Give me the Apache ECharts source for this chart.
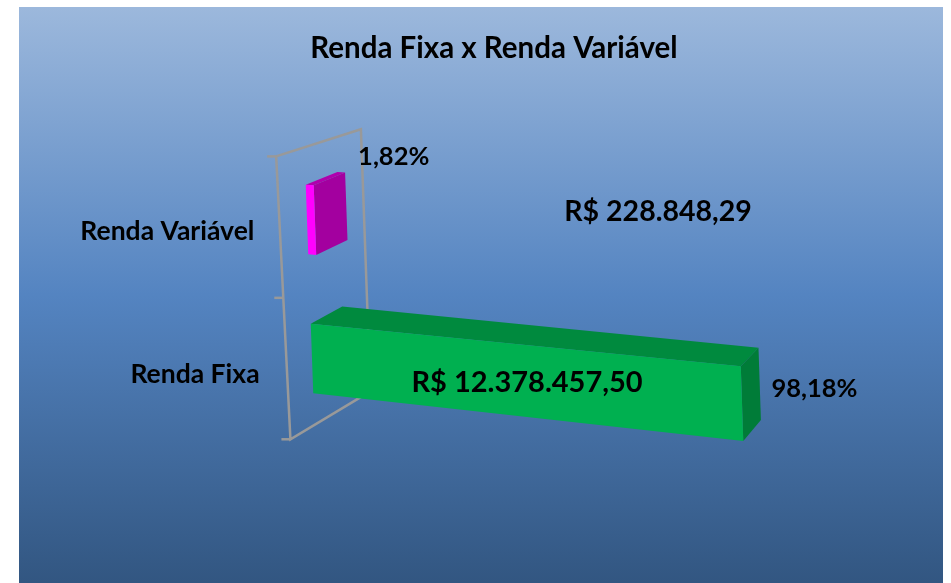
<!DOCTYPE html>
<html>
<head>
<meta charset="utf-8">
<title>Renda Fixa x Renda Variável</title>
<script src="https://cdn.jsdelivr.net/npm/echarts@6/dist/echarts.min.js"></script>
<style>
  html, body { margin: 0; background: #fff; }
  #chart { width: 951px; height: 583px; }
</style>
</head>
<body>
<div id="chart"></div>
<script>
// dados
const categorias = ['Renda Variável', 'Renda Fixa']
const percentuais = [1.82, 98.18]
const valores = [228848.29, 12378457.50]

// cores das barras (frente, topo, lado)
const cores = [
  { frente: '#ff00ff', topo: '#b000ad', lado: '#a3009f' },
  { frente: '#00b050', topo: '#008a3e', lado: '#007c38' }
]
const fonte = 'Lato'

// perspectiva "3D" feita à mão
const KX = 0.036
const KY = 0.105
const G = 0.00017
const PROF_BARRA = 0.032
const PAREDE_FRENTE = -0.032
const PAREDE_FUNDO = 0.057

function fmtPct (v) {
  return v.toFixed(2).replace('.', ',') + '%'
}
function fmtReal (v) {
  const [i, d] = v.toFixed(2).split('.')
  return 'R$ ' + i.replace(/\B(?=(\d{3})+(?!\d))/g, '.') + ',' + d
}

function projetor (cs) {
  const px = cs.x
  const py = cs.y + cs.height * 0.75
  const vp = [px + 982, py - 572]
  const F = (x, y) => {
    const dx = x - px
    return [x + KX * (y - py), y + KY * dx + G * dx * (y - py)]
  }
  const D = (p, t, ty) => {
    if (ty === undefined) ty = t
    return [p[0] + (vp[0] - p[0]) * t, p[1] + (vp[1] - p[1]) * ty]
  }
  // aresta da frente da parede: um pouco mais inclinada e achatada
  const W = (x, y) => {
    const p = D(F(x, y), PAREDE_FRENTE * 0.8, PAREDE_FRENTE * 0.55)
    return [p[0] + 0.0144 * (y - py), p[1]]
  }
  return { F, D, W }
}

function texto (txt, x, y, size, align) {
  return {
    type: 'text',
    z2: 10,
    style: {
      text: txt, x: x, y: y, fill: '#000',
      fontFamily: fonte, fontWeight: 'bold', fontSize: size,
      align: align || 'center', verticalAlign: 'middle'
    }
  }
}

function barraItem (params, api) {
  const v = api.value(0)
  const i = api.value(1)
  const { F, D } = projetor(params.coordSys)
  const a = api.coord([0, i])
  const b = api.coord([v, i])
  const h = api.size([0, 1])[1] * 0.5
  const fTL = F(a[0], a[1] - h / 2)
  const fTR = F(b[0], a[1] - h / 2)
  const fBR = F(b[0], a[1] + h / 2)
  const fBL = F(a[0], a[1] + h / 2)
  const bTL = D(fTL, PROF_BARRA)
  const bTR = D(fTR, PROF_BARRA)
  const bBR = D(fBR, PROF_BARRA)
  const cor = cores[i]
  const curta = b[0] - a[0] < 120

  const filhos = [
    { type: 'polygon', shape: { points: [fTL, fTR, bTR, bTL] }, style: { fill: cor.topo } },
    { type: 'polygon', shape: { points: [fTR, fBR, bBR, bTR] }, style: { fill: cor.lado } },
    { type: 'polygon', shape: { points: [fTL, fTR, fBR, fBL] }, style: { fill: cor.frente } }
  ]

  // percentual na ponta da barra
  if (curta) {
    filhos.push(texto(fmtPct(percentuais[i]), bTR[0] + 13, bTR[1] - 16, 25.5, 'left'))
  } else {
    filhos.push(texto(fmtPct(percentuais[i]), bTR[0] + 13, (bTR[1] + bBR[1]) / 2 + 5, 25.5, 'left'))
  }

  // valor em reais
  if (curta) {
    filhos.push(texto(fmtReal(valores[i]), api.coord([79, i])[0], a[1] - 8, 28.5))
  } else {
    const c = F((a[0] + b[0]) / 2, a[1])
    filhos.push(texto(fmtReal(valores[i]), c[0], c[1] + 2, 29))
  }

  // nome da categoria ao lado da parede
  const p = D(F(a[0], a[1]), PAREDE_FRENTE)
  filhos.push(texto(categorias[i], p[0] - 21, p[1] - 2, 26.5, 'right'))

  return { type: 'group', children: filhos }
}

function paredeItem (params, api) {
  const cs = params.coordSys
  const { F, D, W } = projetor(cs)
  const x0 = api.coord([0, 0])[0]
  const band = api.size([0, 1])[1]
  const cima = cs.y
  const baixo = cs.y + cs.height
  const ft = W(x0, cima)
  const fb = W(x0, baixo)
  const bt = D(F(x0, cima), PAREDE_FUNDO)
  const bb = D(F(x0, baixo), PAREDE_FUNDO)
  const linha = { stroke: '#999999', lineWidth: 2.5, fill: 'none' }
  const filhos = [
    { type: 'polyline', shape: { points: [bb, bt, ft, fb, bb] }, style: linha }
  ]
  for (let k = 0; k <= categorias.length; k++) {
    const t = W(x0, cima + k * band)
    filhos.push({ type: 'line', shape: { x1: t[0] - 9, y1: t[1], x2: t[0], y2: t[1] }, style: linha })
  }
  return { type: 'group', children: filhos }
}

const chart = echarts.init(document.getElementById('chart'))
chart.setOption({
  animation: false,
  title: {
    text: 'Renda Fixa x Renda Variável',
    left: 489,
    top: 28,
    textAlign: 'center',
    textStyle: { fontFamily: fonte, fontWeight: 'bold', fontSize: 29.5, color: '#000' }
  },
  graphic: [{
    type: 'rect',
    z: -10,
    silent: true,
    shape: { x: 19, y: 7, width: 924, height: 576 },
    style: {
      fill: new echarts.graphic.LinearGradient(0, 0, 0, 1, [
        { offset: 0, color: '#9cb8dc' },
        { offset: 0.5, color: '#5484c1' },
        { offset: 1, color: '#325681' }
      ])
    }
  }],
  grid: { left: 312, top: 150, width: 438, height: 278 },
  xAxis: { type: 'value', min: 0, max: 100, show: false },
  yAxis: { type: 'category', data: categorias, inverse: true, show: false },
  series: [
    {
      type: 'custom',
      name: 'parede',
      z: 1,
      silent: true,
      renderItem: paredeItem,
      data: [[0, 0]]
    },
    {
      type: 'custom',
      name: 'barras',
      z: 2,
      renderItem: barraItem,
      encode: { x: 0, y: 1 },
      data: percentuais.map((v, i) => [v, i])
    }
  ]
})
</script>
</body>
</html>
